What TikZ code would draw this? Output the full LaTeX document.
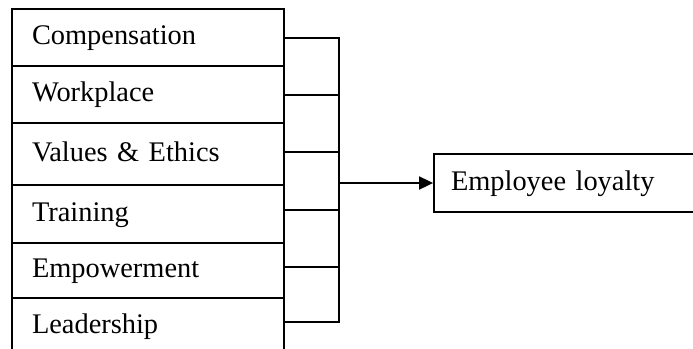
\documentclass[tikz,border=0pt]{standalone}
\usepackage{fontspec}
\setmainfont{Liberation Serif}
\usetikzlibrary{arrows.meta,positioning}

\begin{document}
\begin{tikzpicture}[x=1pt, y=-1pt, line width=1.8pt,
  factor/.style={draw, rectangle, text width=232pt, inner xsep=20pt, align=left,
    minimum height=57pt, text height=20pt, text depth=6pt,
    font=\fontsize{28.4}{34}\selectfont},
  outcome/.style={factor, text width=252pt, inner xsep=17pt, minimum height=58pt}]

\useasboundingbox (0,0) rectangle (693,348);

% the six factors, stacked
\node[factor] (comp) at (148,37.5) {Compensation};
\node[factor] (work) at (148,94.5) {Workplace};
\node[factor, minimum height=62pt] (ethics) at (148,154) {Values \& Ethics};
\node[factor, minimum height=58pt] (train) at (148,214) {Training};
\node[factor, minimum height=55pt] (empow) at (148,270.5) {Empowerment};
\node[factor] (lead) at (148,326.5) {Leadership};

\node[outcome] (loyalty) at (577,183) {Employee loyalty};

% bus on the right of the factors
\foreach \n/\y [count=\i] in {comp/38, work/95, ethics/152, train/210, empow/267, lead/322}
  \coordinate (j\i) at (339,\y);
\draw (comp.east |- j1) -- (j1) -- (j6) -- (lead.east |- j6);
\foreach \n [count=\i from 2] in {work, ethics, train, empow}
  \draw (\n.east |- j\i) -- (j\i);

\draw[-{Triangle[length=14pt,width=13pt]}] (j1 |- loyalty.west) -- (loyalty.west);

\end{tikzpicture}
\end{document}
